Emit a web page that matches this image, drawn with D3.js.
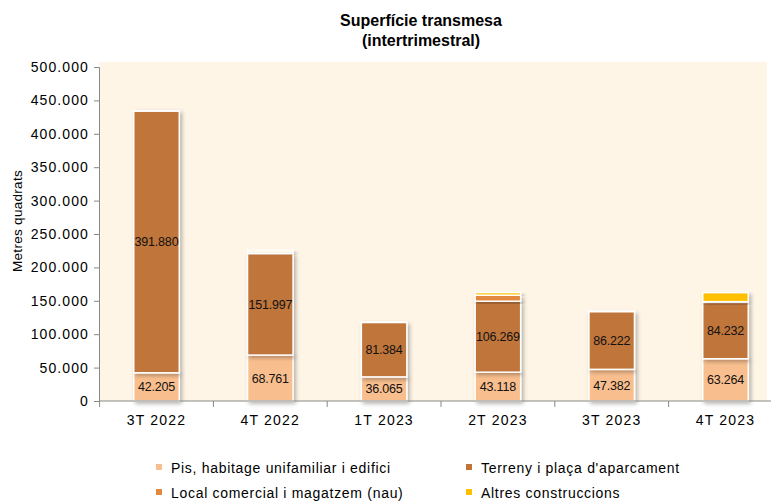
<!DOCTYPE html>
<html><head><meta charset="utf-8">
<script src="https://cdn.jsdelivr.net/npm/d3@7"></script>
<style>body{margin:0;background:#fff}svg{display:block;font-family:"Liberation Sans",Arial,sans-serif}</style>
</head><body><svg id="c" width="771" height="503"></svg>
<script>
const categories = ["3T 2022","4T 2022","1T 2023","2T 2023","3T 2023","4T 2023"];
const seriesNames = ["Pis, habitage unifamiliar i edifici","Terreny i plaça d'aparcament","Local comercial i magatzem (nau)","Altres construccions"];
const pis      = [42205, 68761, 36065, 43118, 47382, 63264];
const terreny  = [391880, 151997, 81384, 106269, 86222, 84232];
const local    = [800, 2500, 500, 9000, 800, 1200];
const altres   = [300, 2500, 300, 4000, 300, 13500];
const yTicks = [0,50000,100000,150000,200000,250000,300000,350000,400000,450000,500000];
const colors = ["#F9BE8E","#C0743A","#E3883F","#FFC000"];

(function(){
const fmt = d3.formatLocale({decimal:",",thousands:".",grouping:[3],currency:["","€"]}).format(",");
const svg = d3.select("#c");
const L = 99.6, R = 782.4, T = 67, B = 401;

const defs = svg.append("defs");
const f = defs.append("filter").attr("id","sh").attr("x","-20%").attr("y","-20%").attr("width","150%").attr("height","150%");
f.append("feGaussianBlur").attr("in","SourceAlpha").attr("stdDeviation",2);
f.append("feOffset").attr("dx",2).attr("dy",2).attr("result","o");
f.append("feComponentTransfer").append("feFuncA").attr("type","linear").attr("slope",0.3);
const m = f.append("feMerge"); m.append("feMergeNode"); m.append("feMergeNode").attr("in","SourceGraphic");

svg.append("rect").attr("x",99).attr("y",62).attr("width",668).attr("height",B-62).attr("fill","#FEF5E6");

const x = d3.scaleBand().domain(categories).range([L,R]).paddingInner(0.6).paddingOuter(0.3);
const xb = d3.scaleBand().domain(categories).range([L,R]);
const y = d3.scaleLinear().domain([0,500000]).range([B,T]);

const rows = categories.map((c,i)=>({cat:c, s0:pis[i], s1:terreny[i], s2:local[i], s3:altres[i]}));
const stack = d3.stack().keys(["s0","s1","s2","s3"])(rows);

const g = svg.append("g");
stack.forEach((layer,k)=>{
  g.append("g").selectAll("rect").data(layer).join("rect")
    .attr("x",d=>x(d.data.cat)).attr("width",x.bandwidth())
    .attr("y",d=>y(d[1])).attr("height",d=>Math.max(0,y(d[0])-y(d[1])))
    .attr("fill",colors[k]).attr("stroke","#fff").attr("stroke-width",1.5)
    .attr("filter","url(#sh)");
});
[0,1].forEach(k=>{
  g.append("g").selectAll("text").data(stack[k]).join("text")
    .attr("x",d=>x(d.data.cat)+x.bandwidth()/2).attr("y",d=>(y(d[0])+y(d[1]))/2+4.5)
    .attr("text-anchor","middle").attr("font-size",12.5).attr("fill","#111")
    .attr("letter-spacing","-0.2")
    .text(d=>fmt(d[1]-d[0]));
});

const ya = svg.append("g").attr("transform",`translate(99,0)`)
  .call(d3.axisLeft(y).tickValues(yTicks).tickSize(5).tickFormat(fmt));
ya.select(".domain").attr("stroke","#888");
ya.selectAll(".tick line").attr("stroke","#888");
ya.selectAll(".tick text").attr("font-size",14).attr("fill","#000").attr("x",-10).attr("letter-spacing","1.1").attr("font-family","Liberation Sans, Arial");

const xa = svg.append("g").attr("transform",`translate(0,${B})`)
  .call(d3.axisBottom(xb).tickSize(0).tickPadding(14));
xa.select(".domain").attr("stroke","#888").attr("d",`M99,0H771`);
xa.selectAll(".tick text").attr("font-size",14).attr("fill","#000").attr("letter-spacing","1.2").attr("font-family","Liberation Sans, Arial");
xa.append("g").selectAll("line").data(categories).join("line")
  .attr("x1",d=>xb(d)).attr("x2",d=>xb(d)).attr("y1",0).attr("y2",6).attr("stroke","#888");

svg.append("text").attr("x",421).attr("y",26).attr("text-anchor","middle").attr("font-weight","bold").attr("font-size",16).text("Superfície transmesa");
svg.append("text").attr("x",421).attr("y",46).attr("text-anchor","middle").attr("font-weight","bold").attr("font-size",16).text("(intertrimestral)");
svg.append("text").attr("transform","translate(22,221) rotate(-90)").attr("text-anchor","middle").attr("font-size",13.5).attr("letter-spacing","0.3").text("Metres quadrats");

const legPos = [[156,468],[466,468],[156,493],[466,493]];
seriesNames.forEach((n,i)=>{
  const [lx,ly] = legPos[i];
  svg.append("rect").attr("x",lx).attr("y",ly-4).attr("width",6).attr("height",6).attr("fill",colors[i]);
  svg.append("text").attr("x",lx+15).attr("y",ly+4.5).attr("font-size",14).attr("letter-spacing","0.7").text(n);
});
})();
</script></body></html>
